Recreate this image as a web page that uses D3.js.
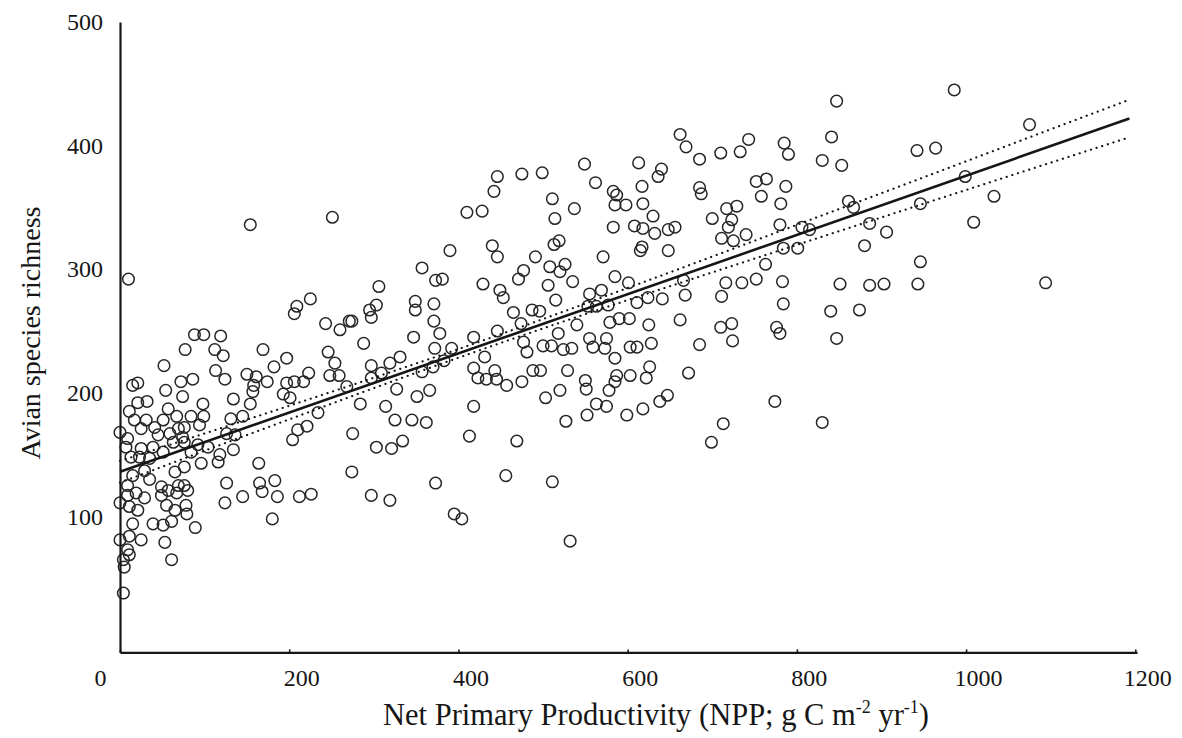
<!DOCTYPE html>
<html><head><meta charset="utf-8">
<script src="https://cdn.jsdelivr.net/npm/d3@7"></script>
<style>html,body{margin:0;padding:0;background:#fff}svg{display:block}</style>
</head><body>
<svg id="chart" width="1182" height="738"></svg>
<script>
// ---- DATA ----
const npp = [
154,251,10,209,206,225,243,260,271,88,
99,119,77,112,122,169,246,288,52,113,
124,150,161,158,182,197,174,197,206,217,
223,193,201,157,154,254,248,259,268,234,
210,221,204,275,164,274,165,168,183,186,
212,226,180,
15,21,54,72,86,74,21,32,11,57,
98,99,134,17,31,51,67,84,94,131,
145,0,25,41,69,76,9,45,59,74,
126,136,7,25,39,63,76,92,104,134,
13,23,35,51,84,96,116,118,15,29,
35,65,76,126,49,57,69,76,80,9,
0,9,19,29,11,21,49,67,55,65,
78,79,124,145,15,39,51,61,89,0,
11,25,53,9,11,4,61,5,4,
549,446,442,475,499,562,511,537,410,428,
514,519,513,440,446,390,491,357,373,381,
508,526,520,535,477,471,429,506,449,453,
555,306,515,274,303,295,297,349,349,371,
371,378,465,487,496,474,553,563,540,347,
418,446,518,477,481,500,510,524,534,555,
559,331,319,297,309,297,372,392,370,383,
357,327,351,366,284,314,325,345,362,418,
423,433,443,445,457,431,475,488,497,529,
520,503,550,551,563,552,527,418,303,321,
334,413,469,373,456,511,297,319,395,404,
532,
847,662,669,743,785,790,841,685,710,733,
830,853,613,640,636,617,583,587,585,598,
618,630,685,687,752,764,758,787,781,700,
717,729,723,719,711,725,740,780,583,608,
618,632,648,656,617,615,648,571,806,815,
861,867,886,906,880,784,801,763,585,601,
569,577,624,641,668,666,716,735,752,783,
711,784,851,886,903,840,874,847,579,590,
602,611,625,662,710,723,776,780,575,573,
603,611,628,685,724,585,626,622,603,587,
585,672,578,575,599,618,638,647,774,713,
699,830,
986,1075,942,964,999,946,1033,1009,946,943,1094
];
const richness = [
336,342,292,270,264,276,256,251,258,247,
247,246,235,235,230,235,233,240,222,218,
211,215,213,206,221,228,209,208,209,209,
216,199,196,201,191,224,214,214,205,184,
170,173,162,167,143,136,127,120,129,116,
116,118,98,
206,208,202,209,211,197,192,193,185,187,
191,181,195,178,178,178,181,181,174,179,
181,168,171,172,171,172,163,166,167,164,
167,166,156,155,156,160,160,158,156,154,
148,148,147,152,152,143,144,150,133,137,
130,136,140,127,124,121,125,125,121,125,
111,117,119,115,108,105,117,119,109,105,
109,102,111,116,94,94,93,96,91,81,
84,81,79,73,69,65,65,59,38,
385,375,363,377,378,370,357,349,346,347,
341,323,320,319,310,315,310,301,291,292,
302,304,298,290,299,292,288,287,283,277,
280,286,275,258,271,267,261,274,267,272,
258,248,265,267,266,256,270,270,255,245,
245,250,248,241,233,238,238,235,236,244,
237,229,224,222,216,212,236,236,221,226,
217,203,197,202,191,189,178,178,176,220,
212,211,218,211,206,229,209,218,218,218,
202,196,210,203,191,182,177,189,156,155,
161,165,161,127,133,128,117,113,102,98,
80,
436,409,399,405,402,393,407,389,394,395,
388,384,386,381,375,367,363,360,352,352,
353,343,366,361,371,373,359,367,353,341,
349,351,340,334,325,323,328,336,334,335,
333,329,332,334,318,315,315,310,334,332,
355,350,337,330,319,317,317,304,294,289,
283,271,277,276,279,291,289,289,292,290,
278,272,288,287,288,266,267,244,257,260,
260,273,255,259,253,256,253,248,244,236,
237,237,240,239,242,228,221,212,214,214,
209,216,202,189,182,187,193,198,193,175,
160,176,
445,417,396,398,375,353,359,338,306,288,289
];
const xTicks = [0, 200, 400, 600, 800, 1000, 1200];
const yTicks = [100, 200, 300, 400, 500];
// fitted regression line and its confidence band
const fitX = [0, 1193];
const fitY = [136.1, 421.9];
const bandX = [0, 100, 200, 300, 400, 500, 600, 700, 800, 900, 1000, 1100, 1193];
const bandUpper = [144.9, 167.1, 189.5, 212.2, 235.4, 259.7, 284.8, 310.2, 335.9, 361.5, 387.3, 413.2, 437.1];
const bandLower = [127.3, 153.1, 178.5, 203.8, 228.4, 252.1, 275.0, 297.4, 319.7, 341.9, 364.1, 386.2, 406.7];
const yTitle = "Avian species richness";

// ---- DRAWING ----
const svg = d3.select('#chart');
const font = "'Liberation Serif','Times New Roman',Times,serif";
const ink = '#161616';

const x = d3.scaleLinear().domain([0, 1202]).range([120, 1137]);
const y = d3.scaleLinear().domain([-10, 500]).range([652.4, 22]);

// points
svg.append('g')
  .selectAll('circle')
  .data(npp.map((v, i) => ({x: v, y: richness[i]})))
  .join('circle')
  .attr('cx', d => x(d.x))
  .attr('cy', d => y(d.y))
  .attr('r', 5.8)
  .attr('fill', 'none')
  .attr('stroke', '#262626')
  .attr('stroke-width', 1.5);

// confidence band (dotted)
const curve = d3.line().x(d => x(d[0])).y(d => y(d[1])).curve(d3.curveMonotoneX);
[bandUpper, bandLower].forEach(b => {
  svg.append('path')
    .datum(bandX.map((v, i) => [v, b[i]]))
    .attr('d', curve)
    .attr('fill', 'none')
    .attr('stroke', ink)
    .attr('stroke-width', 2.2)
    .attr('stroke-linecap', 'round')
    .attr('stroke-dasharray', '0.1,5.8');
});

// regression line
svg.append('path')
  .datum(fitX.map((v, i) => [v, fitY[i]]))
  .attr('d', d3.line().x(d => x(d[0])).y(d => y(d[1])))
  .attr('fill', 'none')
  .attr('stroke', ink)
  .attr('stroke-width', 2.6);

// x axis
const gx = svg.append('g').attr('transform', `translate(0,${y(-10)})`)
  .attr('font-family', font)
  .call(d3.axisBottom(x).tickValues(xTicks).tickSizeInner(-3).tickSizeOuter(0).tickFormat(d3.format('d')));
gx.attr('font-family', font).attr('font-size', 24);
gx.select('.domain').attr('stroke', ink).attr('stroke-width', 2.2);
gx.selectAll('.tick line').attr('stroke', ink).attr('stroke-width', 1.6);
gx.selectAll('.tick text')
  .attr('font-family', font).attr('font-size', 24).attr('fill', ink)
  .attr('y', 34).attr('dy', 0)
  .attr('dx', d => d === 0 ? -20 : 12);

// y axis
const gy = svg.append('g').attr('transform', `translate(${x(0)},0)`)
  .call(d3.axisLeft(y).tickValues(yTicks).tickSize(0).tickPadding(17).tickFormat(d3.format('d')));
gy.attr('font-family', font).attr('font-size', 24);
gy.select('.domain').attr('stroke', ink).attr('stroke-width', 2.2);
gy.selectAll('.tick text')
  .attr('font-family', font).attr('font-size', 24).attr('fill', ink);

// axis titles
const xt = svg.append('text')
  .attr('x', 656).attr('y', 725)
  .attr('text-anchor', 'middle')
  .attr('font-family', font).attr('font-size', 30.5).attr('fill', ink);
xt.append('tspan').text('Net Primary Productivity (NPP; g C m');
xt.append('tspan').attr('font-size', 18).attr('dy', -12).text('-2');
xt.append('tspan').attr('dy', 12).text(' yr');
xt.append('tspan').attr('font-size', 18).attr('dy', -12).text('-1');
xt.append('tspan').attr('dy', 12).text(')');

svg.append('text')
  .attr('transform', 'translate(40,333) rotate(-90)')
  .attr('text-anchor', 'middle')
  .attr('font-family', font).attr('font-size', 28).attr('fill', ink)
  .text(yTitle);
</script>
</body></html>
